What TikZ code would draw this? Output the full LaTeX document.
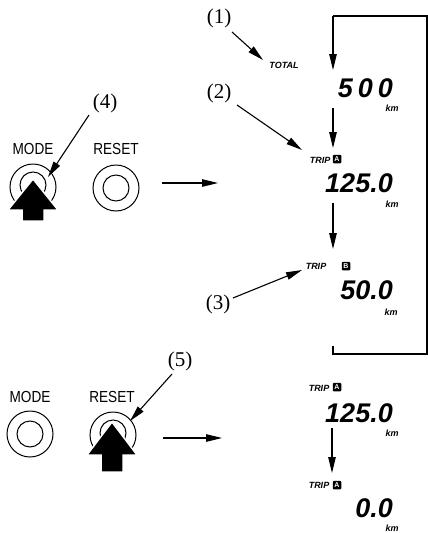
\documentclass[tikz,border=0pt]{standalone}
\usepackage{fontspec}
\usetikzlibrary{arrows.meta}
\newfontfamily\segfont{Liberation Sans}
\newfontfamily\lblfont[FakeStretch=0.85]{Liberation Sans}
\newfontfamily\numfont{Liberation Serif}
\begin{document}
\begin{tikzpicture}[x=1pt,y=-1pt,
  ptr/.style={line width=1.1pt, -{Triangle[length=16pt,width=7.5pt]}},
  lnk/.style={line width=1.1pt},
  btnout/.style={circle, draw, line width=1pt, minimum size=46pt, inner sep=0pt},
  btnin/.style={circle, draw, line width=1pt, minimum size=26pt, inner sep=0pt},
  callout/.style={font=\numfont\fontsize{21}{21}\selectfont, inner sep=0pt},
  keylbl/.style={font=\lblfont\fontsize{16}{16}\selectfont, inner sep=0pt},
  seg/.style={font=\segfont\bfseries\itshape\fontsize{27}{27}\selectfont, inner sep=0pt, anchor=east},
  tag/.style={font=\segfont\bfseries\itshape\fontsize{9}{9}\selectfont, inner sep=0pt},
  unit/.style={font=\segfont\bfseries\itshape\fontsize{9}{9}\selectfont, inner sep=0pt},
  boxl/.style={fill=black, text=white, font=\segfont\bfseries\fontsize{7}{7}\selectfont, inner sep=0pt, rounded corners=1pt, minimum size=8.5pt},
  bigarrow/.style={fill=black, draw=white, line width=1.5pt}
]
\useasboundingbox (0,0) rectangle (428,533);

% ---------- top panel: buttons ----------
\node[keylbl] (modeA) at (33,149) {MODE};
\node[keylbl] (resetA) at (116,149) {RESET};
\node[btnout] (modeAo) at (33,187) {};
\node[btnin]  (modeAi) at (33,185) {};
\node[btnout] (resetAo) at (116,188) {};
\node[btnin]  (resetAi) at (116,188) {};
\draw[bigarrow] (33,179) -- (58,210) -- (44,210) -- (44,221) -- (22,221) -- (22,210) -- (8,210) -- cycle;
\node[callout] (c4) at (105,103) {(4)};
\coordinate (c4s) at (89,115);
\coordinate (c4e) at (48,177);
\draw[ptr] (c4s) -- (c4e);
\coordinate (hA1) at (162,183);
\coordinate (hA2) at (218,183);
\draw[ptr] (hA1) -- (hA2);

% ---------- top panel: display ----------
\node[callout] (c1) at (219,18) {(1)};
\node[tag] (total) at (284,65) {TOTAL};
\coordinate (c1s) at (232,32);
\coordinate (c1e) at (263,60);
\draw[ptr] (c1s) -- (c1e);

\node[seg] (d500) at (393,88) {5\kern5pt0\kern5pt0};
\node[unit] (km1) at (392,108) {km};

\node[callout] (c2) at (219,93) {(2)};
\node[tag] (tripA) at (320,160) {TRIP};
\node[boxl] (bA) at (337,159) {A};
\coordinate (c2s) at (237,105);
\coordinate (c2e) at (302,150);
\draw[ptr] (c2s) -- (c2e);

\node[seg] (d125) at (393,183) {125.0};
\node[unit] (km2) at (392,204) {km};

\node[tag] (tripB) at (316,266) {TRIP};
\node[boxl] (bB) at (346,266) {B};
\node[seg] (d50) at (393,290) {50.0};
\node[unit] (km3) at (391,312) {km};
\node[callout] (c3) at (218,304) {(3)};
\coordinate (c3s) at (233,298);
\coordinate (c3e) at (302,270);
\draw[ptr] (c3s) -- (c3e);

% loop
\coordinate (L1) at (333,16);
\coordinate (L2) at (427,16);
\coordinate (L3) at (427,354);
\coordinate (L4) at (333,354);
\coordinate (L5) at (333,346);
\coordinate (Ltip) at (333,70);
\draw[lnk] (L5) -- (L4) -- (L3) -- (L2) -- (L1);
\draw[ptr] (L1) -- (Ltip);
\coordinate (v1s) at (333,108);
\coordinate (v1e) at (333,148);
\draw[ptr] (v1s) -- (v1e);
\coordinate (v2s) at (333,203);
\coordinate (v2e) at (333,249);
\draw[ptr] (v2s) -- (v2e);

% ---------- bottom panel: buttons ----------
\node[keylbl] (modeB) at (30,397) {MODE};
\node[keylbl] (resetB) at (112,397) {RESET};
\node[btnout] (modeBo) at (30,434) {};
\node[btnin]  (modeBi) at (30,434) {};
\node[btnout] (resetBo) at (113,435) {};
\node[btnin]  (resetBi) at (113,433) {};
\draw[bigarrow] (112,422) -- (137,455) -- (123,455) -- (123,472) -- (101,472) -- (101,455) -- (87,455) -- cycle;
\node[callout] (c5) at (180,361) {(5)};
\coordinate (c5s) at (172,374);
\coordinate (c5e) at (130,421);
\draw[ptr] (c5s) -- (c5e);
\coordinate (hB1) at (163,438);
\coordinate (hB2) at (222,438);
\draw[ptr] (hB1) -- (hB2);

% ---------- bottom panel: display ----------
\node[tag] (tripC) at (319,388) {TRIP};
\node[boxl] (bC) at (337,387) {A};
\node[seg] (e125) at (393,413) {125.0};
\node[unit] (km4) at (392,433) {km};
\coordinate (v3s) at (332,428);
\coordinate (v3e) at (332,473);
\draw[ptr] (v3s) -- (v3e);
\node[tag] (tripD) at (319,485) {TRIP};
\node[boxl] (bD) at (337,485) {A};
\node[seg] (e00) at (393,508) {0.0};
\node[unit] (km5) at (392,528) {km};
\end{tikzpicture}
\end{document}
